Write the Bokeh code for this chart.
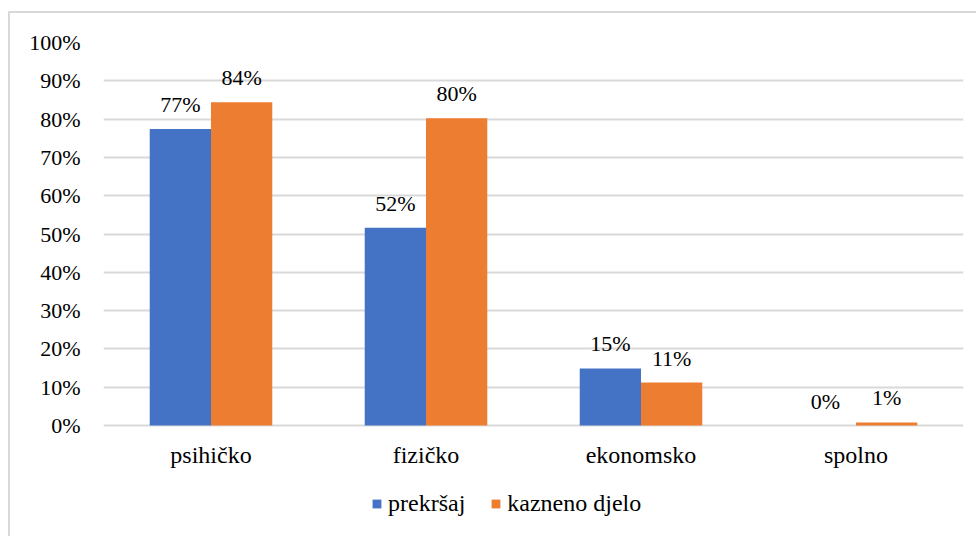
from bokeh.plotting import figure
from bokeh.models import (ColumnDataSource, FactorRange, Range1d, FixedTicker, NumeralTickFormatter,
                          Legend, LegendItem, LabelSet)
from bokeh.transform import dodge
from bokeh.embed import file_html
from bokeh.resources import INLINE

categories = ["psihičko", "fizičko", "ekonomsko", "spolno"]
series_names = ["prekršaj", "kazneno djelo"]
prekrsaj = [77.4, 51.6, 14.9, 0.0]
kazneno = [84.4, 80.2, 11.2, 0.8]
y_ticks = [0, 10, 20, 30, 40, 50, 60, 70, 80, 90, 100]

BLUE = "#4472C4"
ORANGE = "#ED7D31"
FONT = "serif"
GRID = "#d9d9d9"

src = ColumnDataSource(dict(
    cat=categories,
    base=[0.0] * len(categories),
    a=[v / 100 for v in prekrsaj],
    b=[v / 100 for v in kazneno],
    la=[f"{round(v)}%" for v in prekrsaj],
    lb=[f"{round(v)}%" for v in kazneno],
))

# frame spans down to the legend area; the value axis covers 0..100 %
p = figure(x_range=FactorRange(*categories, range_padding=0), y_range=Range1d(-0.2898, 1.0),
           width=976, height=536, output_backend="svg", toolbar_location=None,
           min_border_left=103, min_border_right=13, min_border_top=42, min_border_bottom=0)
p.x_range.range_padding = 0
p.border_fill_color = None
p.background_fill_color = None
p.outline_line_color = None
p.styles = {
    "background": "linear-gradient(#d9d9d9,#d9d9d9) 8px 11px / 2px 100% no-repeat, "
                  "linear-gradient(#d9d9d9,#d9d9d9) 8px 11px / 100% 2px no-repeat",
}

w = 0.285
ra = p.vbar(x=dodge("cat", -w / 2, range=p.x_range), top="a", width=w, source=src,
            fill_color=BLUE, line_color=None)
rb = p.vbar(x=dodge("cat", w / 2, range=p.x_range), top="b", width=w, source=src,
            fill_color=ORANGE, line_color=None)

for col, lab, off in (("a", "la", -w / 2), ("b", "lb", w / 2)):
    p.add_layout(LabelSet(x=dodge("cat", off, range=p.x_range), y=col, text=lab, source=src,
                          y_offset=17, text_align="center", text_baseline="alphabetic",
                          text_font=FONT, text_font_size="22px", text_color="#000000"))

# category labels under the 0 % line
p.add_layout(LabelSet(x="cat", y="base", text="cat", source=src, y_offset=-37,
                      text_align="center", text_baseline="alphabetic",
                      text_font=FONT, text_font_size="24px", text_color="#000000"))

p.yaxis.ticker = FixedTicker(ticks=[t / 100 for t in y_ticks])
p.yaxis.formatter = NumeralTickFormatter(format="0%")
p.yaxis.axis_line_color = None
p.yaxis.major_tick_line_color = None
p.yaxis.minor_tick_line_color = None
p.yaxis.major_tick_out = 0
p.yaxis.major_tick_in = 0
p.yaxis.major_label_text_font = FONT
p.yaxis.major_label_text_font_size = "22px"
p.yaxis.major_label_text_color = "#000000"
p.yaxis.major_label_standoff = 23

p.xaxis.visible = False
p.xgrid.grid_line_color = None
p.ygrid.grid_line_color = GRID
p.ygrid.grid_line_width = 2

legend = Legend(items=[LegendItem(label=series_names[0], renderers=[ra]),
                       LegendItem(label=series_names[1], renderers=[rb])],
                orientation="horizontal", location=(268, 19),
                glyph_width=11, glyph_height=11, label_standoff=6, spacing=25,
                padding=0, margin=0, border_line_color=None, background_fill_alpha=0,
                label_text_font=FONT, label_text_font_size="24px", label_text_color="#000000",
                label_height=26)
p.add_layout(legend, "center")

open("out.html", "w").write(file_html(p, INLINE))
